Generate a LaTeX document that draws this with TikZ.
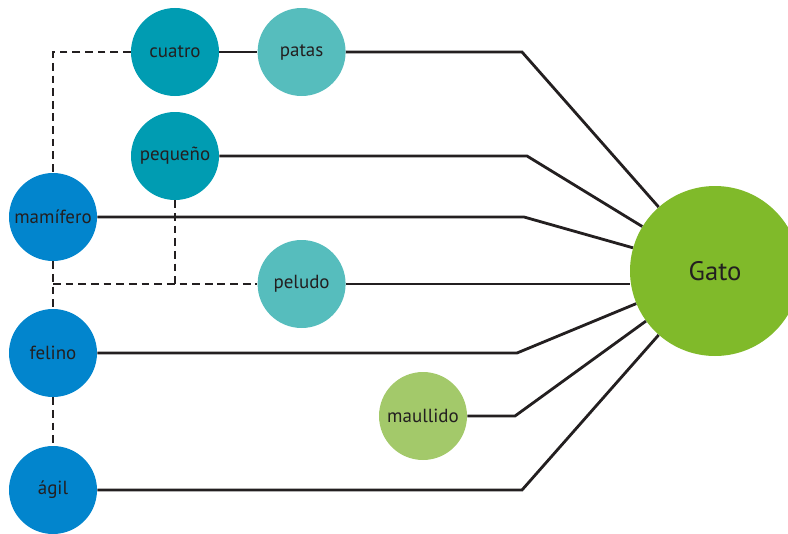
\documentclass[tikz,border=0pt]{standalone}
\usepackage{fontspec}
\setmainfont{PT Sans}
\usepackage{tikz}
\usetikzlibrary{calc}
\definecolor{ink}{HTML}{231F20}
\definecolor{cblue}{HTML}{0285CD}
\definecolor{cteal}{HTML}{009CB2}
\definecolor{caqua}{HTML}{56BDBD}
\definecolor{cgreen}{HTML}{80BA2A}
\definecolor{clime}{HTML}{A3C96A}
\tikzset{
  line/.style={draw=ink, line width=2pt},
  dashedline/.style={draw=ink, line width=2pt, dash pattern=on 5.5pt off 3.5pt},
  word/.style={circle, minimum size=2.2cm, inner sep=0pt, text=ink, font=\fontsize{13.5}{16}\selectfont},
  bword/.style={word, fill=cblue},
  tword/.style={word, fill=cteal},
  aword/.style={word, fill=caqua},
  lword/.style={word, fill=clime},
  hub/.style={circle, minimum size=4.25cm, inner sep=0pt, fill=cgreen, text=ink, font=\fontsize{19}{22}\selectfont}
}

\begin{document}
\begin{tikzpicture}
  \clip (0,0) rectangle (19.7,13.325);
  \useasboundingbox (0,0) rectangle (19.7,13.325);

  \node[hub] (gato) at (17.875,6.55) {Gato};

  \node[tword] (cuatro) at (4.375,12.025) {cuatro};
  \node[aword] (patas) at (7.54,12.025) {patas};
  \node[tword] (pequeno) at (4.375,9.425) {pequeño};
  \node[bword] (mamifero) at (1.325,7.9) {mamífero};
  \node[aword] (peludo) at (7.54,6.225) {peludo};
  \node[bword] (felino) at (1.325,4.5) {felino};
  \node[lword] (maullido) at (10.575,2.925) {maullido};
  \node[bword] (agil) at (1.325,1.075) {ágil};

  % bends before the hub
  \coordinate (kpatas) at (13.05,12.025);
  \coordinate (kpequeno) at (13.175,9.425);
  \coordinate (kmamifero) at (13.1,7.9);
  \coordinate (kfelino) at (12.925,4.5);
  \coordinate (kmaullido) at (12.875,2.925);
  \coordinate (kagil) at (13.05,1.075);

  \draw[line] (cuatro) -- (patas);
  \draw[line] (patas) -- (kpatas) -- (gato);
  \draw[line] (pequeno) -- (kpequeno) -- (gato);
  \draw[line] (mamifero) -- (kmamifero) -- (gato);
  \draw[line] (peludo) -- (peludo -| gato.west);
  \draw[line] (felino) -- (kfelino) -- (gato);
  \draw[line] (maullido) -- (kmaullido) -- (gato);
  \draw[line] (agil) -- (kagil) -- (gato);

  % dashed links on the left
  \coordinate (ktop) at (1.325,12.025);
  \coordinate (jleft) at (1.325,6.225);
  \coordinate (jmid) at (4.375,6.225);
  \draw[dashedline] (cuatro) -- (ktop) -- (mamifero);
  \draw[dashedline] (mamifero) -- (felino);
  \draw[dashedline] (jleft) -- (peludo);
  \draw[dashedline] (pequeno) -- (jmid);
  \draw[dashedline] (felino) -- (agil);
\end{tikzpicture}
\end{document}
